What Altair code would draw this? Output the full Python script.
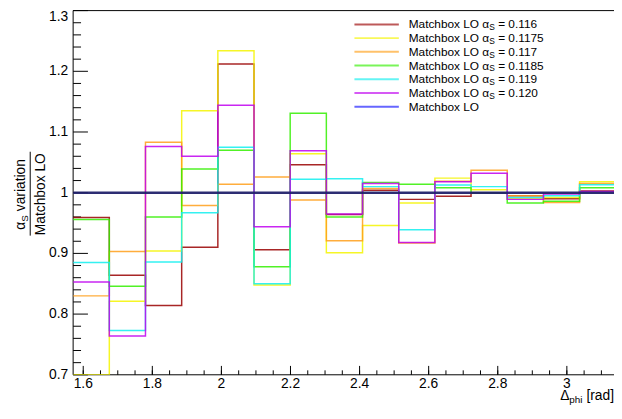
import altair as alt
import pandas as pd

FONT = "Liberation Sans"

# bin edges of the Delta-phi histogram (pi/2 .. pi, 15 bins)
edges = [1.5708, 1.6755, 1.7802, 1.8850, 1.9897, 2.0944, 2.1991, 2.3038,
         2.4086, 2.5133, 2.6180, 2.7227, 2.8274, 2.9322, 3.0369, 3.1416]

alpha_labels = ["0.116", "0.1175", "0.117", "0.1185", "0.119", "0.120"]

r_0116 = [0.959, 0.864, 0.814, 0.910, 1.212, 0.906, 1.046, 0.964, 1.004, 0.989, 0.994, 1.000, 0.995, 0.990, 1.003]
r_01175 = [0.700, 0.821, 0.904, 1.135, 1.234, 0.848, 1.064, 0.901, 0.946, 0.983, 1.024, 1.005, 0.990, 0.992, 1.018]
r_0117 = [0.830, 0.903, 1.083, 0.979, 1.014, 1.026, 0.988, 0.921, 1.007, 0.917, 1.019, 1.037, 0.995, 0.984, 1.015]
r_01185 = [0.956, 0.846, 0.960, 1.039, 1.070, 0.878, 1.131, 0.960, 1.017, 1.014, 1.008, 0.9995, 0.983, 0.986, 1.008]
r_0119 = [0.885, 0.773, 0.886, 0.967, 1.075, 0.850, 1.022, 1.023, 1.010, 0.939, 1.0125, 1.010, 0.992, 0.995, 1.013]
r_0120 = [0.853, 0.764, 1.076, 1.060, 1.144, 0.944, 1.069, 0.965, 1.015, 0.918, 1.018, 1.032, 0.989, 0.998, 1.002]
r_nominal = [1.0, 1.0, 1.0, 1.0, 1.0, 1.0, 1.0, 1.0, 1.0, 1.0, 1.0, 1.0, 1.0, 1.0, 1.0]

variations = [r_0116, r_01175, r_0117, r_01185, r_0119, r_0120]
var_colors = ["#990000", "#f4f400", "#ff9f1a", "#33ee00", "#11eeee", "#c000f0"]
nominal_color = "#22226b"
nominal_legend_color = "#3333ff"

x_label_values = [1.6, 1.8, 2.0, 2.2, 2.4, 2.6, 2.8, 3.0]
x_label_text = ["1.6", "1.8", "2", "2.2", "2.4", "2.6", "2.8", "3"]
x_minor_ticks = [1.6, 1.65, 1.7, 1.75, 1.8, 1.85, 1.9, 1.95, 2.0, 2.05, 2.1, 2.15, 2.2, 2.25,
                 2.3, 2.35, 2.4, 2.45, 2.5, 2.55, 2.6, 2.65, 2.7, 2.75, 2.8, 2.85, 2.9, 2.95,
                 3.0, 3.05, 3.1]
y_label_values = [0.7, 0.8, 0.9, 1.0, 1.1, 1.2, 1.3]
y_label_text = ["0.7", "0.8", "0.9", "1", "1.1", "1.2", "1.3"]
y_minor_ticks = [0.72, 0.74, 0.76, 0.78, 0.82, 0.84, 0.86, 0.88, 0.92, 0.94, 0.96, 0.98,
                 1.02, 1.04, 1.06, 1.08, 1.12, 1.14, 1.16, 1.18, 1.22, 1.24, 1.26, 1.28]

W, H = 548, 369
xs = alt.Scale(domain=[1.5708, 3.1365], nice=False, zero=False)
ys = alt.Scale(domain=[0.7, 1.3], nice=False, zero=False)

one = pd.DataFrame({"k": [0]})


def hist_layer(vals, color, width, opacity):
    df = pd.DataFrame({"x": edges, "y": list(vals) + [vals[-1]]})
    return alt.Chart(df).mark_line(interpolate="step-after", clip=True, color=color,
                                   strokeWidth=width, opacity=opacity).encode(
        x=alt.X("x:Q", scale=xs, axis=None),
        y=alt.Y("y:Q", scale=ys, axis=None),
    )


def txt(s, x, y, size, align="left", baseline="middle", angle=0, dx=0, dy=0):
    return alt.Chart(one).mark_text(text=s, align=align, baseline=baseline, angle=angle,
                                    dx=dx, dy=dy, fontSize=size, font=FONT,
                                    color="black").encode(x=alt.value(x), y=alt.value(y))


layers = []

# frame: left, bottom, top (drawn first, histograms go over it as in ROOT)
layers.append(alt.Chart(one).mark_rule(color="black").encode(
    x=alt.value(0), y=alt.value(0), y2=alt.value(H)))
layers.append(alt.Chart(one).mark_rule(color="black").encode(
    x=alt.value(0), x2=alt.value(W), y=alt.value(H)))
layers.append(alt.Chart(one).mark_rule(color="black").encode(
    x=alt.value(0), x2=alt.value(W), y=alt.value(0)))

# inward ticks (ROOT style)
layers.append(alt.Chart(pd.DataFrame({"v": x_label_values})).mark_rule(color="black").encode(
    x=alt.X("v:Q", scale=xs, axis=None), y=alt.value(H), y2=alt.value(H - 9)))
layers.append(alt.Chart(pd.DataFrame({"v": x_minor_ticks})).mark_rule(color="black").encode(
    x=alt.X("v:Q", scale=xs, axis=None), y=alt.value(H), y2=alt.value(H - 4.5)))
layers.append(alt.Chart(pd.DataFrame({"v": y_label_values})).mark_rule(color="black").encode(
    y=alt.Y("v:Q", scale=ys, axis=None), x=alt.value(0), x2=alt.value(15)))
layers.append(alt.Chart(pd.DataFrame({"v": y_minor_ticks})).mark_rule(color="black").encode(
    y=alt.Y("v:Q", scale=ys, axis=None), x=alt.value(0), x2=alt.value(8)))

for vals, col in zip(variations, var_colors):
    layers.append(hist_layer(vals, col, 1.5, 0.85))
layers.append(hist_layer(r_nominal, nominal_color, 2.5, 0.95))

# tick labels
layers.append(alt.Chart(pd.DataFrame({"v": x_label_values, "t": x_label_text})).mark_text(
    align="center", baseline="middle", fontSize=14, font=FONT, color="black").encode(
    x=alt.X("v:Q", scale=xs, axis=None), y=alt.value(H + 9), text="t:N"))
layers.append(alt.Chart(pd.DataFrame({"v": y_label_values[:-1], "t": y_label_text[:-1]})).mark_text(
    align="right", baseline="middle", fontSize=14, font=FONT, color="black", dx=-5).encode(
    y=alt.Y("v:Q", scale=ys, axis=None), x=alt.value(0), text="t:N"))
layers.append(alt.Chart(pd.DataFrame({"v": y_label_values[-1:], "t": y_label_text[-1:]})).mark_text(
    align="right", baseline="top", fontSize=14, font=FONT, color="black", dx=-5, dy=0).encode(
    y=alt.Y("v:Q", scale=ys, axis=None), x=alt.value(0), text="t:N"))

# x title: Delta_phi [rad]
TY = 395
layers.append(txt("[rad]", W, TY, 14, align="right", baseline="alphabetic"))
layers.append(txt("phi", 516, TY, 10, align="right", baseline="alphabetic", dy=3))
layers.append(txt("Δ", 502.8, TY, 14, align="right", baseline="alphabetic"))

# y title: alpha_S variation / Matchbox LO
layers.append(txt("α", -49, 222, 14, baseline="alphabetic", angle=270))
layers.append(txt("S", -49, 222, 10, baseline="alphabetic", angle=270, dx=8.1, dy=3))
layers.append(txt("variation", -49, 222, 14, baseline="alphabetic", angle=270, dx=18.7))
layers.append(alt.Chart(one).mark_rule(color="black").encode(
    x=alt.value(-43.5), y=alt.value(143), y2=alt.value(228)))
layers.append(txt("Matchbox LO", -29, 186, 14, align="center", baseline="alphabetic", angle=270))

# legend
row_y = [14 + 13.9 * i for i in range(7)]
for i, (lab, col) in enumerate(zip(alpha_labels, var_colors)):
    y = row_y[i]
    layers.append(alt.Chart(one).mark_rule(color=col, strokeWidth=2, opacity=0.65).encode(
        x=alt.value(285), x2=alt.value(330), y=alt.value(y)))
    layers.append(txt("Matchbox LO α", 340, y, 12))
    layers.append(txt("S", 421.6, y, 8.5, dy=3))
    layers.append(txt("= " + lab, 430.6, y, 12))
y = row_y[6]
layers.append(alt.Chart(one).mark_rule(color=nominal_legend_color, strokeWidth=2, opacity=0.75).encode(
    x=alt.value(285), x2=alt.value(330), y=alt.value(y)))
layers.append(txt("Matchbox LO", 340, y, 12))

chart = alt.layer(*layers).properties(
    width=W, height=H,
    padding={"left": 66, "top": 0, "right": 0, "bottom": 30},
    autosize=alt.AutoSizeParams(type="none"),
    background="white",
).configure_view(stroke=None)

chart.save("out.html", embed_options={"renderer": "svg", "actions": False})
